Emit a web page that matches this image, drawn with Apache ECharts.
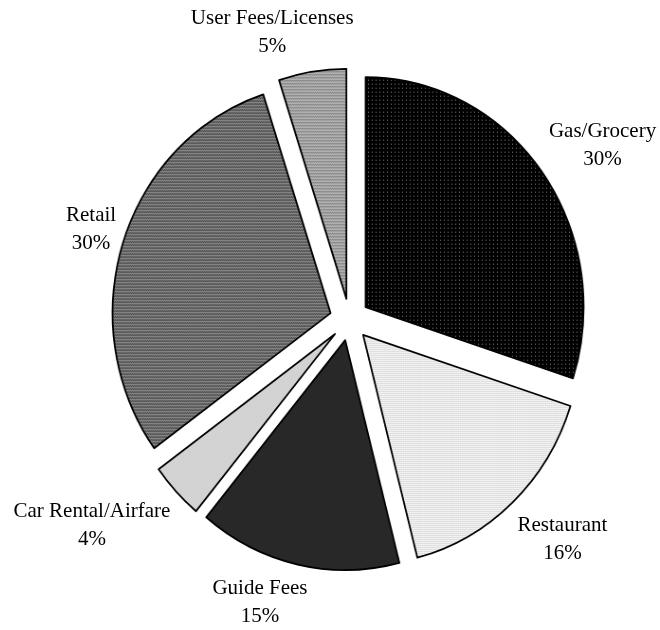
<!DOCTYPE html>
<html>
<head>
<meta charset="utf-8">
<script src="https://cdn.jsdelivr.net/npm/echarts@6/dist/echarts.min.js"></script>
<style>
  html, body { margin: 0; padding: 0; background: #fff; }
  #wrap { position: relative; width: 660px; height: 630px; overflow: hidden; }
  #pie, #labels { position: absolute; left: 0; top: 0; width: 660px; height: 630px; }
  /* the pie is drawn slightly narrower than tall */
  #pie { transform: scaleX(0.948); transform-origin: 349.5px 50%; }
</style>
</head>
<body>
<div id="wrap">
  <div id="pie"></div>
  <div id="labels"></div>
</div>
<script>
// Spending shares, clockwise from 12 o'clock
const categories = ['Gas/Grocery', 'Restaurant', 'Guide Fees', 'Car Rental/Airfare', 'Retail', 'User Fees/Licenses'];
const shares = [30, 16, 15, 4, 30, 5];

// Geometry and styling constants
const CX = 349.5, CY = 319.6, R = 230, EXPLODE = 21, SX = 0.948, GAP = 15;
// manual label drag offsets (px)
const labelNudge = [[5, -1], [9, 6], [-24, -4], [-16, 5], [6, 1], [-25, 3]];

// Halftone fill tiles
function tile(rows) {
  const c = document.createElement('canvas');
  c.height = rows.length; c.width = rows[0].length;
  const ctx = c.getContext('2d');
  rows.forEach((row, y) => row.forEach((col, x) => { ctx.fillStyle = col; ctx.fillRect(x, y, 1, 1); }));
  return c;
}
const K = '#000', W = '#fff';
const fills = [
  tile([['#8a8a8a', K, K, K], [K, K, K, K], [K, K, K, K], [K, K, K, K]]),           // dark, sparse dots
  tile([['#a8a8a8', W], [W, W]]),                                                    // light dots
  tile([['#505050', '#000'], ['#000', '#505050']]),                                  // dark checker
  tile([['#a8a8a8', W], [W, '#a8a8a8']]),                                            // light checker
  tile([['#a4a4a4', '#626262'], ['#626262', '#a4a4a4'], ['#404040', '#404040']]),    // mid gray, ruled
  tile([['#d0d0d0', '#909090'], ['#909090', '#d0d0d0'], ['#808080', '#808080']])     // light gray, ruled
];

const total = shares.reduce((a, b) => a + b, 0);
const cum = [];
shares.reduce((acc, v, i) => { cum[i] = acc; return acc + v; }, 0);

const pieChart = echarts.init(document.getElementById('pie'), null, { renderer: 'canvas' });
pieChart.setOption({
  animation: false,
  series: [{
    type: 'pie',
    center: [CX, CY],
    radius: R,
    startAngle: 90,
    clockwise: true,
    selectedMode: 'multiple',
    selectedOffset: EXPLODE,
    silent: true,
    label: { show: false },
    labelLine: { show: false },
    emphasis: { disabled: true },
    itemStyle: { borderColor: '#000', borderWidth: 1.8 },
    data: categories.map((name, i) => ({
      name, value: shares[i], selected: true,
      itemStyle: { color: { image: fills[i], repeat: 'repeat' } }
    }))
  }]
});

// Label layer: same data, labels placed just outside each slice's arc
const labelChart = echarts.init(document.getElementById('labels'), null, { renderer: 'canvas' });
labelChart.setOption({
  animation: false,
  series: [{
    type: 'pie',
    center: [CX, CY],
    radius: R,
    startAngle: 90,
    clockwise: true,
    silent: true,
    avoidLabelOverlap: false,
    itemStyle: { color: 'rgba(0,0,0,0)', borderWidth: 0 },
    labelLine: { show: false },
    emphasis: { disabled: true },
    label: {
      show: true,
      position: 'outside',
      formatter: p => p.name + '\n' + p.value + '%',
      fontFamily: 'Liberation Serif',
      fontSize: 21,
      lineHeight: 28,
      color: '#000',
      align: 'center'
    },
    labelLayout: params => {
      const i = params.dataIndex;
      const mid = (cum[i] + shares[i] / 2) / total * Math.PI * 2;
      const ux = Math.sin(mid), uy = -Math.cos(mid);
      const ex = CX + EXPLODE * SX * ux, ey = CY + EXPLODE * uy;
      const px = ex + R * SX * ux + GAP * ux, py = ey + R * uy + GAP * uy;
      const w = params.labelRect.width, h = params.labelRect.height;
      return {
        x: px + ux * w / 2 + labelNudge[i][0],
        y: py + uy * h / 2 + labelNudge[i][1],
        align: 'center',
        verticalAlign: 'middle'
      };
    },
    data: categories.map((name, i) => ({ name, value: shares[i] }))
  }]
});
</script>
</body>
</html>
